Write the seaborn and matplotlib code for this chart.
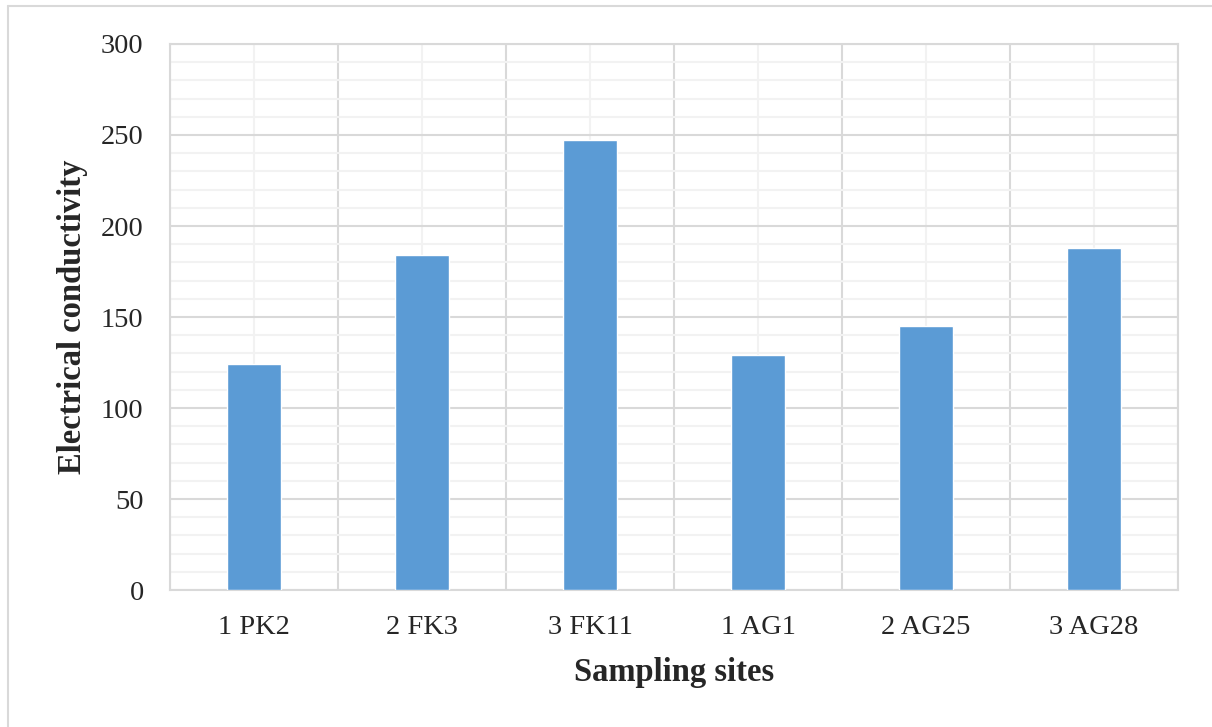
import matplotlib.pyplot as plt
import matplotlib.lines as mlines
import seaborn as sns
import pandas as pd
import numpy as np

sites = ["1 PK2", "2 FK3", "3 FK11", "1 AG1", "2 AG25", "3 AG28"]
conductivity = [124, 184, 247, 129, 145, 188]

df = pd.DataFrame({"site": sites, "ec": conductivity})

sns.set_style("white")
plt.rcParams["font.family"] = ["Liberation Serif", "DejaVu Serif"]

fig = plt.figure(figsize=(12.12, 7.27), dpi=100)
ax = fig.add_axes([0.1403, 0.1884, 0.8317, 0.7511])

sns.barplot(data=df, x="site", y="ec", color="#5b9bd5", width=0.32,
            saturation=1, ax=ax, zorder=3)

ax.set_ylim(0, 300)
ax.set_xlim(-0.5, len(sites) - 0.5)
ax.set_yticks(np.arange(0, 301, 50))
ax.set_yticks(np.arange(0, 301, 10), minor=True)
ax.set_xticks(np.arange(-0.5, len(sites), 1.0), minor=True)

# light lines at 10s and at category centres, darker at 50s and between categories
ax.grid(True, which="minor", axis="y", color="#f2f2f2", lw=1.5, zorder=0)
ax.grid(True, which="major", axis="x", color="#f2f2f2", lw=1.5, zorder=0)
ax.grid(True, which="major", axis="y", color="#d9d9d9", lw=1.5, zorder=1)
ax.grid(True, which="minor", axis="x", color="#d9d9d9", lw=1.5, zorder=1)
ax.set_axisbelow(True)

for s in ax.spines.values():
    s.set_color("#d9d9d9")
    s.set_linewidth(1.5)

ax.tick_params(axis="both", which="both", length=0, labelsize=20.5, colors="#262626")
ax.tick_params(axis="x", pad=18)
ax.tick_params(axis="y", pad=19)

ax.set_xlabel("Sampling sites", fontsize=23.5, fontweight="bold", labelpad=12)
ax.set_ylabel("Electrical conductivity", fontsize=23.5, fontweight="bold", labelpad=9)

# outer frame of the picture (left and top only)
fig.add_artist(mlines.Line2D([0.0066, 0.0066], [0, 0.992], color="#d9d9d9", lw=1.5))
fig.add_artist(mlines.Line2D([0.0066, 1.0], [0.992, 0.992], color="#d9d9d9", lw=1.5))

fig.savefig("out.png", dpi=100)
